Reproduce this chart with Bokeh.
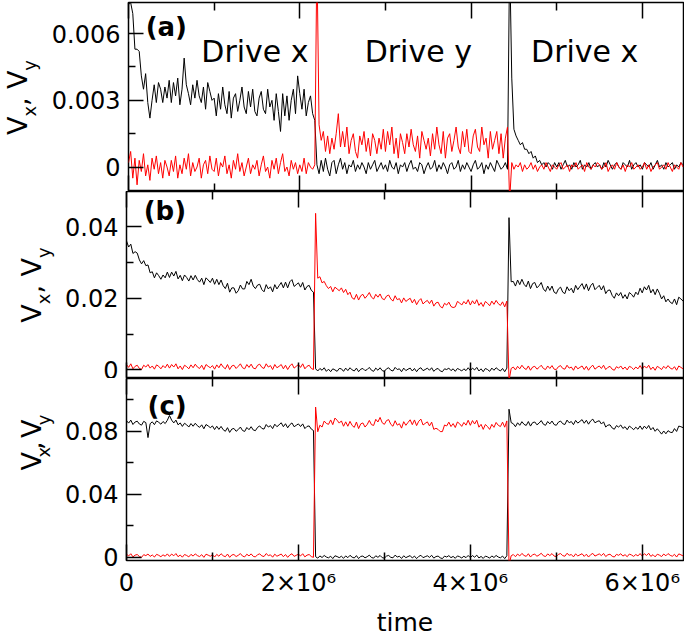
import numpy as np
from bokeh.plotting import figure
from bokeh.models import Range1d, FixedTicker, LinearAxis, Label
from bokeh.layouts import column, row
from bokeh.core.properties import value
from bokeh.embed import file_html
from bokeh.resources import INLINE

# ---------------- data ----------------
DT = 25000.0          # sampling step of the traces, in time units
X_MAX = 6.48e6
UNIT = 1e-4           # all trace values below are in units of 1e-4

# panel (a)
vx_a = [73, 74, 69, 53, 53, 52, 41, 35, 42, 29, 22, 30, 37, 29, 38, 35, 29, 36, 31, 39,
        29, 38, 32, 40, 28, 35, 49, 37, 33, 28, 37, 31, 39, 32, 29, 36, 26, 38, 34, 30,
        31, 23, 33, 26, 36, 28, 24, 34, 22, 31, 33, 25, 30, 36, 27, 24, 34, 27, 35, 25,
        23, 31, 34, 26, 24, 35, 27, 30, 21, 33, 25, 16, 33, 23, 32, 21, 30, 35, 24, 41,
        33, 26, 35, 23, 29, 32, 24, 21, 1, -3, 3, -2, 4, -1, -4, 2, 3, -3, 1, 4,
        -1, 2, -3, 1, 0, 3, -2, 1, -1, 2, 0, -3, 2, -1, 1, 3, -2, 0, 2, -1,
        1, -2, 3, 0, -1, 2, -3, 1, 0, 2, -2, 1, 3, -1, 0, -2, 2, 1, -3, 0,
        2, -1, 0, 3, -2, 1, -1, 2, 0, -3, 1, 2, -1, 0, 3, -2, 1, -1, 2, 0,
        -2, 1, 3, -1, 0, 2, -3, 1, -1, 2, 0, -2, 3, 1, -1, 0, 2, -1, 95, 40,
        17, 14, 12, 10, 11, 8, 8, 6, 7, 4, 5, 2, 3, 1, 2, 0, 2, 1, -1, 2,
        0, 2, -1, 1, 3, 0, 1, -1, 2, 0, 1, 3, -1, 1, 0, 2, -1, 1, 2, 0,
        1, -1, 2, 0, 3, 1, -1, 1, 2, 0, -1, 2, 1, 0, 3, -1, 1, 2, 0, 1,
        -1, 2, 1, 0, 2, -1, 1, 3, 0, 1, -1, 2, 0, 1, 2, -1, 1, 0, 2, 1]
vy_a = [2, 7, -5, 4, -8, 3, -2, 6, -4, 1, -6, 4, -1, 5, -3, 2, -5, 3, 0, -4,
        3, -2, 5, -5, 1, -3, 4, -1, 6, -4, 2, -2, 0, 4, -5, 1, 3, -3, 5, -1,
        -2, 4, -4, 2, 0, 5, -3, 1, -5, 3, -1, 6, -2, 2, -4, 0, 4, -3, 1, -1,
        3, -4, 1, 5, -2, 0, -5, 3, -1, 4, -3, 2, 6, -2, 0, -4, 3, -1, 2, -3,
        1, -2, 4, -3, 2, 0, -1, 1, 95, 19, 12, 16, 7, 14, 6, 13, 8, 15, 24, 9,
        16, 9, 18, 6, 12, 15, 7, 4, 14, 10, 16, 7, 13, 5, 15, 12, 6, 13, 8, 17,
        7, 16, 10, 18, 6, 13, 4, 15, 11, 6, 15, 9, 17, 10, 7, 14, 4, 16, 12, 8,
        13, 5, 15, 8, 18, 10, 6, 16, 4, 13, 15, 7, 12, 18, 9, 6, 16, 9, 17, 7,
        6, 14, 17, 9, 7, 18, 10, 13, 4, 16, 8, 12, 16, 6, 15, 4, 13, 18, -15, 2,
        -1, 1, 0, 2, -2, 1, -1, 0, 2, -1, 1, -2, 0, 1, -1, 2, 0, -2, 1, 0,
        -1, 1, 2, -1, 0, 1, -2, 1, 0, 2, -1, 0, 1, -2, 2, 0, -1, 1, 0, 2,
        1, -1, 0, 2, -2, 0, 1, -1, 2, 0, -1, 1, -2, 1, 0, 2, -1, 0, 1, -1,
        0, 2, -1, 1, -2, 0, 1, 2, -1, 0, 1, -1, 2, 0, -2, 1, 0, -1, 2, 0]

# panel (b)
vx_b = [360, 343, 351, 325, 330, 326, 307, 296, 305, 291, 293, 271, 274, 257, 271, 263, 253, 265, 257, 273,
        258, 273, 262, 275, 254, 264, 249, 265, 258, 248, 263, 251, 264, 252, 245, 256, 238, 257, 251, 244,
        256, 239, 253, 238, 251, 235, 227, 242, 217, 229, 229, 214, 221, 237, 226, 226, 247, 238, 253, 234,
        227, 237, 239, 224, 218, 238, 226, 232, 218, 238, 226, 235, 244, 229, 245, 229, 246, 252, 233, 238,
        243, 231, 244, 223, 233, 236, 222, 217, 3, -3, 4, -1, 6, -4, 2, -5, 3, 0, -4, 4,
        3, -4, 5, -2, 6, 0, -3, 5, -5, 2, 4, -2, 1, 7, -1, -4, 5, -1, 6, -2,
        -4, 3, 6, -1, -3, 7, 1, 3, -5, 5, -2, 2, 5, -3, 4, -5, 3, 6, -2, 1,
        5, -1, 6, -4, 2, 4, -3, -5, 3, 1, 5, -2, 3, -4, 4, 1, -3, 3, -2, 6,
        -2, 5, 0, 7, -3, 3, -5, 4, 1, -4, 5, -1, 6, 1, -3, 4, -5, 5, 425, 246,
        247, 234, 251, 238, 253, 239, 232, 248, 227, 241, 244, 229, 235, 244, 226, 219, 234, 222, 234, 217,
        213, 226, 231, 217, 213, 232, 221, 228, 215, 236, 224, 233, 241, 225, 240, 221, 235, 242, 224, 230,
        236, 223, 235, 213, 222, 223, 208, 200, 215, 207, 216, 200, 210, 198, 216, 211, 203, 217, 210, 228,
        215, 232, 223, 236, 215, 225, 210, 226, 214, 198, 207, 190, 198, 189, 185, 198, 182, 203, 198, 192]
vy_b = [15, 7, 17, 3, 10, 13, 4, 1, 13, 8, 15, 5, 11, 2, 14, 10, 3, 12, 6, 16,
        5, 15, 8, 17, 3, 11, 1, 13, 9, 3, 14, 6, 16, 8, 4, 13, 1, 15, 10, 6,
        12, 2, 14, 6, 17, 8, 3, 15, 1, 11, 13, 4, 10, 17, 6, 3, 15, 7, 16, 5,
        3, 13, 16, 7, 4, 17, 8, 12, 1, 15, 6, 10, 15, 3, 13, 1, 11, 17, 5, 10,
        15, 7, 17, 3, 10, 13, 4, 1, 437, 256, 260, 243, 247, 235, 227, 233, 218, 231, 226, 221,
        229, 216, 225, 210, 217, 201, 197, 211, 195, 207, 211, 200, 207, 216, 203, 198, 211, 203, 212, 199,
        196, 206, 209, 198, 192, 207, 196, 199, 187, 201, 191, 196, 200, 187, 197, 182, 193, 199, 184, 190,
        194, 185, 195, 178, 187, 189, 177, 173, 186, 181, 189, 177, 174, 176, 191, 187, 181, 191, 184, 196,
        181, 193, 184, 196, 180, 188, 177, 191, 186, 179, 192, 183, 194, 185, 180, 190, 176, 192, -30, 4,
        8, 0, 10, 3, 13, 5, 1, 11, -1, 8, 10, 2, 7, 13, 4, 1, 11, 4, 12, 2,
        1, 9, 12, 4, 2, 13, 5, 8, -1, 11, 3, 7, 11, 1, 10, -1, 8, 13, 2, 7,
        11, 4, 13, 1, 7, 10, 2, -1, 9, 5, 11, 2, 8, 0, 10, 7, 1, 8, 3, 12,
        2, 11, 5, 13, 1, 8, -1, 10, 6, 1, 10, 4, 12, 5, 2, 9, -1, 11, 7, 3]

# panel (c)
vx_c = [867, 852, 871, 843, 859, 864, 846, 839, 863, 855, 760, 848, 860, 842, 866, 857, 845, 862, 849, 870,
        900, 871, 853, 871, 841, 853, 831, 851, 841, 827, 849, 832, 851, 835, 825, 841, 816, 843, 834, 823,
        834, 811, 832, 812, 831, 810, 800, 823, 793, 814, 818, 800, 811, 827, 805, 799, 824, 810, 829, 808,
        804, 825, 834, 818, 814, 843, 827, 836, 817, 845, 829, 841, 854, 829, 848, 822, 842, 853, 829, 838,
        847, 830, 847, 817, 831, 834, 814, 805, 4, -5, 9, -1, 12, 2, -3, 7, -8, 10, 5, -2,
        7, -6, 9, -2, 13, 1, -4, 11, -8, 6, 8, -3, 4, 14, -1, -5, 10, 0, 12, -2,
        -5, 8, 12, 0, -3, 14, 2, 7, -7, 10, -2, 5, 11, -4, 8, -8, 6, 13, -2, 4,
        10, 0, 13, -5, 5, 8, -3, -8, 8, 2, 11, -2, 6, -6, 9, 4, -4, 7, -2, 12,
        -2, 11, 1, 14, -4, 6, -7, 8, 3, -5, 9, -1, 12, 2, -3, 8, -8, 10, 940, 855,
        848, 829, 854, 838, 861, 844, 837, 862, 833, 855, 859, 841, 852, 868, 845, 838, 862, 847, 865, 843,
        838, 858, 865, 848, 843, 871, 854, 862, 842, 869, 852, 863, 874, 851, 870, 845, 866, 877, 854, 862,
        867, 846, 860, 827, 839, 841, 821, 813, 836, 827, 840, 818, 829, 810, 833, 823, 810, 826, 813, 834,
        812, 833, 817, 837, 809, 824, 800, 816, 800, 782, 802, 784, 804, 794, 792, 817, 799, 833, 829, 823]
vy_c = [20, 9, 23, 3, 14, 18, 5, 0, 17, 11, 21, 6, 15, 2, 19, 13, 4, 16, 7, 22,
        6, 21, 10, 24, 4, 15, 1, 18, 12, 3, 19, 8, 22, 11, 5, 17, 0, 20, 14, 7,
        16, 2, 19, 7, 23, 10, 4, 21, 0, 15, 18, 5, 13, 24, 8, 3, 20, 9, 22, 6,
        3, 17, 22, 9, 5, 24, 11, 16, 1, 20, 7, 14, 21, 4, 18, 0, 15, 23, 6, 13,
        20, 9, 23, 3, 14, 18, 5, 0, 954, 797, 839, 827, 865, 850, 844, 872, 842, 884, 870, 852,
        866, 832, 860, 832, 863, 837, 825, 859, 817, 847, 853, 827, 843, 869, 842, 837, 876, 859, 888, 854,
        844, 868, 874, 844, 832, 867, 839, 848, 820, 861, 838, 856, 873, 842, 872, 836, 864, 877, 840, 850,
        860, 834, 858, 812, 819, 812, 798, 798, 840, 834, 858, 830, 849, 824, 859, 848, 831, 856, 839, 870,
        838, 868, 846, 870, 826, 844, 812, 843, 830, 812, 844, 825, 856, 838, 830, 858, 826, 866, -50, 10,
        18, 4, 21, 9, 25, 12, 6, 23, 2, 17, 20, 7, 15, 26, 10, 5, 22, 11, 24, 8,
        5, 19, 24, 11, 7, 26, 13, 18, 3, 22, 9, 16, 23, 6, 20, 2, 17, 25, 8, 15,
        22, 11, 25, 5, 16, 20, 7, 2, 19, 13, 23, 8, 17, 4, 21, 15, 6, 18, 9, 24,
        8, 23, 12, 26, 6, 17, 3, 20, 14, 5, 21, 10, 24, 13, 7, 19, 2, 22, 16, 9]

x_ticks = [0, 2000000, 4000000, 6000000]
x_minor = [1000000, 3000000, 5000000]
x_tick_labels = ["0", "2×10⁶", "4×10⁶", "6×10⁶"]

panels = [
    dict(name="(a)", vx=vx_a, vy=vy_a, yr=(-0.0011, 0.0074),
         ticks=[0, 0.003, 0.006], minor=[0.0015, 0.0045], labels=["0", "0.003", "0.006"],
         tag_xy=(0.2e6, 0.00628)),
    dict(name="(b)", vx=vx_b, vy=vy_b, yr=(-0.0024, 0.0498),
         ticks=[0, 0.02, 0.04], minor=[0.01, 0.03], labels=["0", "0.02", "0.04"],
         tag_xy=(0.2e6, 0.0443)),
    dict(name="(c)", vx=vx_c, vy=vy_c, yr=(-0.002, 0.1135),
         ticks=[0, 0.04, 0.08], minor=[0.02, 0.06, 0.1], labels=["0", "0.04", "0.08"],
         tag_xy=(0.245e6, 0.0958)),
]

drive_texts = ["Drive x", "Drive y", "Drive x"]
drive_x = [0.85e6, 2.757e6, 4.70e6]
drive_y = 0.0052

# ---------------- layout ----------------
FONT = "DejaVu Sans"
FRAME_LEFT = 126           # page x of the plotting frames
LAB_W = [48, 62, 62]       # strip holding the rotated y label of each panel
FRAME_W = 557
HEIGHTS = [191, 187, 261]
CENTERS = [96, 93.5, 94]   # vertical centre of each frame inside its figure (px from top)
ANCHORS = [(17, 29), (31, 43), (31, 43)]   # main / subscript anchor inside the strip
xr = Range1d(0, X_MAX)


def xaxis(show_labels):
    ax = LinearAxis(ticker=FixedTicker(ticks=x_ticks, minor_ticks=x_minor),
                    major_tick_in=16, major_tick_out=0, minor_tick_in=8, minor_tick_out=0,
                    major_tick_line_width=1.5, minor_tick_line_width=1.5,
                    major_tick_line_color="black", minor_tick_line_color="black",
                    axis_line_color=None)
    if show_labels:
        ax.major_label_overrides = dict(zip(x_ticks, x_tick_labels))
        ax.major_label_text_font = FONT
        ax.major_label_text_font_size = "24px"
        ax.major_label_text_color = "black"
        ax.major_label_standoff = 8
        ax.axis_label = "time"
        ax.axis_label_text_font = FONT
        ax.axis_label_text_font_size = "25px"
        ax.axis_label_text_font_style = "normal"
        ax.axis_label_text_color = "black"
        ax.axis_label_standoff = 8
    else:
        ax.major_label_overrides = {t: "" for t in x_ticks}
        ax.major_label_text_font_size = "1px"
        ax.major_label_standoff = 0
    return ax


pieces = [("V", "27px", 0, -37.8), ("x", "18px", 1, -19.3), (",", "27px", 0, -8.6),
          ("V", "27px", 0, 8.6), ("y", "18px", 1, 27.1)]

rows = []
for k, pn in enumerate(panels):
    last = k == len(panels) - 1
    left = FRAME_LEFT - LAB_W[k]
    h = HEIGHTS[k]
    p = figure(width=left + FRAME_W + 1, height=h, x_range=xr, y_range=Range1d(*pn["yr"]),
               output_backend="svg", toolbar_location=None,
               x_axis_location=None, y_axis_location=None,
               min_border_left=left, min_border_right=1,
               min_border_top=2 if k == 0 else 0, min_border_bottom=74 if last else 0,
               background_fill_color="white", border_fill_color="white")
    p.grid.visible = False
    p.outline_line_color = "black"
    p.outline_line_width = 1.5
    p.outline_line_alpha = 1

    yax = LinearAxis(ticker=FixedTicker(ticks=pn["ticks"], minor_ticks=pn["minor"]),
                     major_label_overrides=dict(zip(pn["ticks"], pn["labels"])),
                     major_tick_in=15, major_tick_out=0, minor_tick_in=7, minor_tick_out=0,
                     major_tick_line_width=1.5, minor_tick_line_width=1.5,
                     major_tick_line_color="black", minor_tick_line_color="black",
                     axis_line_color=None,
                     major_label_text_font=FONT, major_label_text_font_size="24px",
                     major_label_text_color="black", major_label_standoff=8)
    p.add_layout(yax, "left")
    p.add_layout(xaxis(False), "above")
    p.add_layout(xaxis(last), "below")

    vx = np.array(pn["vx"]) * UNIT
    vy = np.array(pn["vy"]) * UNIT
    p.line(np.arange(len(vx)) * DT, vx, line_color="black", line_width=1)
    p.line(np.arange(len(vy)) * DT, vy, line_color="#ff0000", line_width=1)

    p.add_layout(Label(x=pn["tag_xy"][0], y=pn["tag_xy"][1], text=pn["name"],
                       text_font=FONT, text_font_style="bold", text_font_size="26px",
                       text_baseline="middle", text_align="left", text_color="black"))
    if k == 0:
        for txt, dx in zip(drive_texts, drive_x):
            p.add_layout(Label(x=dx, y=drive_y, text=txt, text_font=FONT,
                               text_font_size="30px", text_align="left",
                               text_baseline="alphabetic", text_color="black"))

    # strip with the rotated y-axis label  V_x, V_y
    lw = LAB_W[k]
    lab = figure(width=lw, height=h, x_range=Range1d(0, lw), y_range=Range1d(0, h),
                 output_backend="svg", toolbar_location=None, x_axis_location=None,
                 y_axis_location=None, min_border=0, outline_line_color=None,
                 background_fill_color="white", border_fill_color="white")
    lab.grid.visible = False
    cy = CENTERS[k]
    for txt, fs, sub, s in pieces:
        lab.text(x=[ANCHORS[k][sub]], y=[h - cy + s], text=[txt], angle=np.pi / 2,
                 text_font=value(FONT), text_font_size=value(fs), text_align="left",
                 text_baseline="alphabetic", text_color="black")

    rows.append(row(lab, p, spacing=0))

layout = column(*rows, spacing=0)
open("out.html", "w").write(file_html(layout, INLINE))
